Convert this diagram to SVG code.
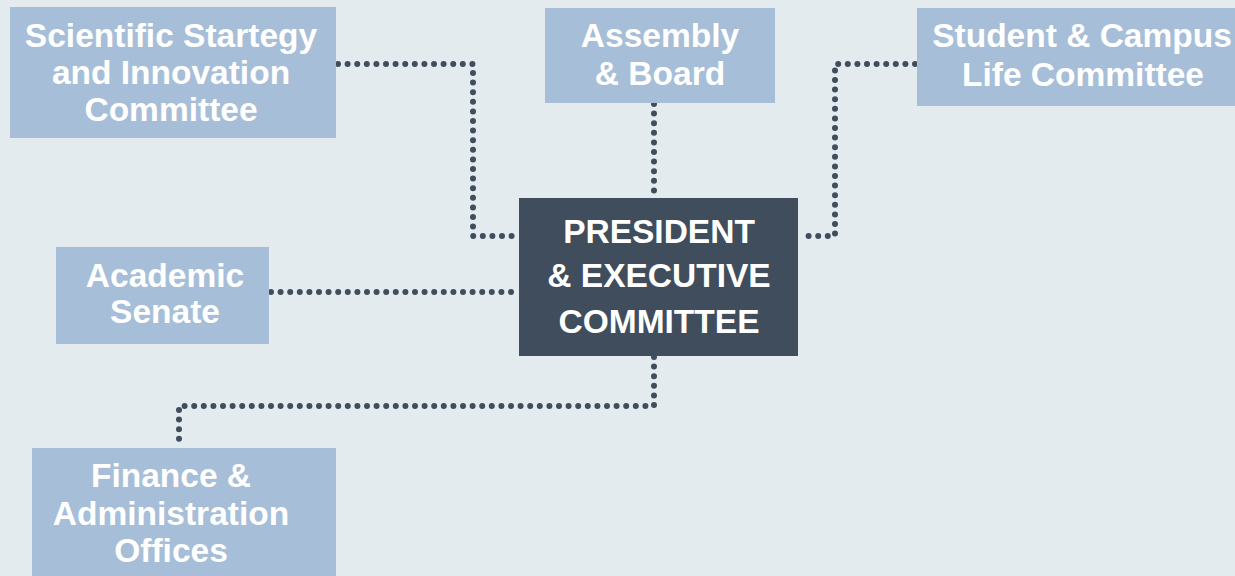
<svg xmlns="http://www.w3.org/2000/svg" width="1235" height="576" viewBox="0 0 1235 576">
<style>
.bg{fill:#E3EBEF}
.box{fill:#A7BED8}
.dark{fill:#3F4D5D}
.t{font-family:"Liberation Sans",Arial,sans-serif;font-weight:bold;font-size:33.5px;fill:#FFFFFF;text-anchor:middle}
.c{fill:none;stroke:#3F4D5D;stroke-width:6;stroke-linecap:round;stroke-linejoin:round;stroke-dasharray:0 9.6}
</style>
<rect class="bg" x="0" y="0" width="1235" height="576"/>
<g id="connectors">
<path class="c" d="M338,64 H473 V236 H518"/>
<path class="c" d="M654,104 V197"/>
<path class="c" d="M915,64 H835 V236 H799"/>
<path class="c" d="M271,292 H518"/>
<path class="c" d="M654,357 V406 H179 V447"/>
</g>
<g id="scientific">
<rect class="box" x="10" y="7" width="326" height="131"/>
<text class="t" x="171" y="47">Scientific Startegy</text>
<text class="t" x="171" y="84">and Innovation</text>
<text class="t" x="171" y="121">Committee</text>
</g>
<g id="assembly">
<rect class="box" x="545" y="8" width="230" height="95"/>
<text class="t" x="660" y="47">Assembly</text>
<text class="t" x="660" y="85">&amp; Board</text>
</g>
<g id="student">
<rect class="box" x="917" y="8" width="320" height="98"/>
<text class="t" x="1082" y="47">Student &amp; Campus</text>
<text class="t" x="1083" y="86">Life Committee</text>
</g>
<g id="president">
<rect class="dark" x="519" y="198" width="279" height="158"/>
<text class="t" x="659" y="243">PRESIDENT</text>
<text class="t" x="659" y="287">&amp; EXECUTIVE</text>
<text class="t" x="659" y="333">COMMITTEE</text>
</g>
<g id="academic">
<rect class="box" x="56" y="247" width="213" height="97"/>
<text class="t" x="165" y="287">Academic</text>
<text class="t" x="165" y="323">Senate</text>
</g>
<g id="finance">
<rect class="box" x="32" y="448" width="304" height="130"/>
<text class="t" x="171" y="487">Finance &amp;</text>
<text class="t" x="171" y="525">Administration</text>
<text class="t" x="171" y="562">Offices</text>
</g>
</svg>
